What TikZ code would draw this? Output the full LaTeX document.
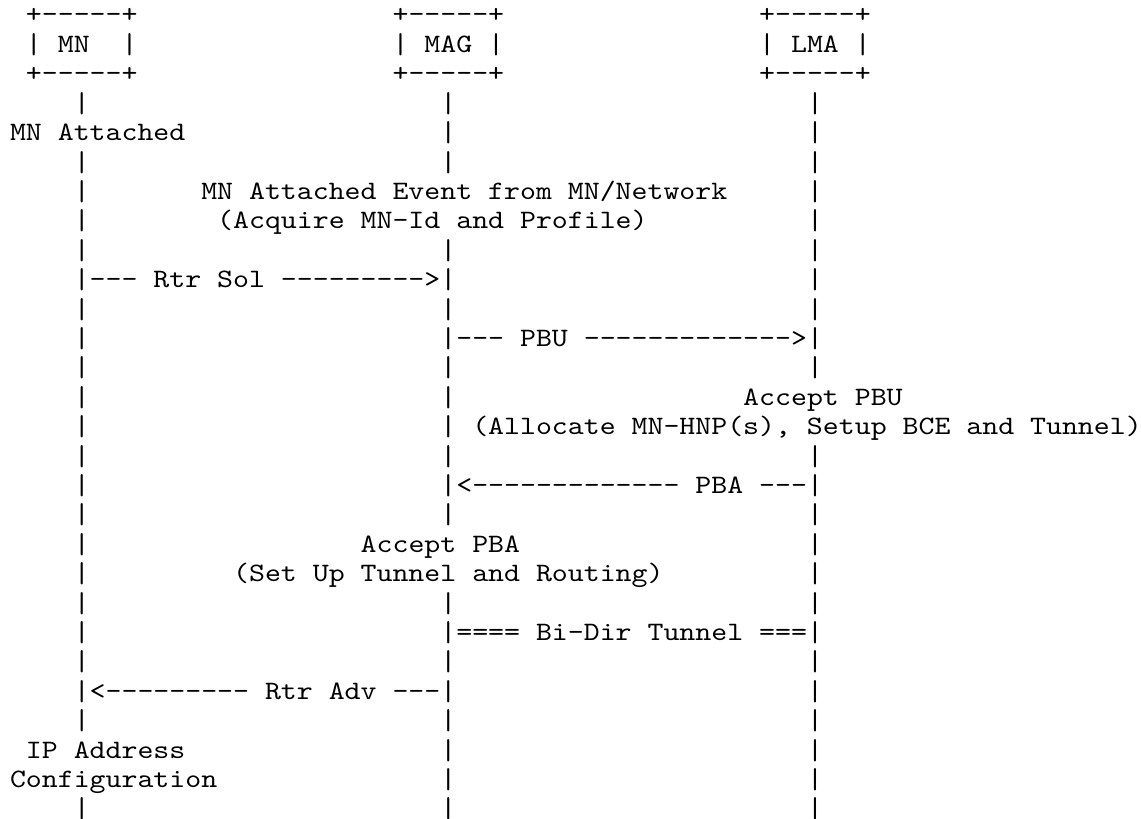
\documentclass[tikz,border=0pt]{standalone}
\usepackage{fontspec}
\usepackage{graphicx}
\setmonofont[FakeStretch=1.1427]{lmmono10-regular.otf}
\tikzset{
  ascii/.style={anchor=base west, inner sep=0pt, outer sep=0pt,
    font=\ttfamily\fontsize{26.57}{29.4}\selectfont, text=black},
}
% column/row grid of the ASCII art
\newcommand\gx[1]{10+(#1)*15.94}
\newcommand\gy[1]{23+(#1)*29.4}
% a bar glyph, slightly stretched toward the line height
\newcommand\tbar{\raisebox{-1pt}{\scalebox{1}[1.08]{|}}}
\begin{document}
\begin{tikzpicture}[x=1pt,y=-1pt]
\useasboundingbox (0,0) rectangle (1141,819);
% entity boxes
\foreach \c/\n/\lab/\lc in {1/mn/MN/3, 24/mag/MAG/26, 47/lma/LMA/49}{
  \node[ascii] (\n-top) at ({\gx{\c}},{\gy{0}}) {+-----+};
  \node[ascii] (\n-l) at ({\gx{\c}},{\gy{1}}) {\tbar};
  \node[ascii] (\n) at ({\gx{\lc}},{\gy{1}}) {\lab};
  \node[ascii] (\n-r) at ({\gx{\c+6}},{\gy{1}}) {\tbar};
  \node[ascii] (\n-bot) at ({\gx{\c}},{\gy{2}}) {+-----+};
}
% lifelines
\foreach \r in {3,5,6,7,8,9,10,11,12,13,14,15,16,17,18,19,20,21,22,23,24,27}
  \node[ascii] (mnl-\r) at ({\gx{4}},{\gy{\r}}) {\tbar};
\foreach \r in {3,4,5,8,9,10,11,12,13,14,15,16,17,20,21,22,23,24,25,26,27}
  \node[ascii] (magl-\r) at ({\gx{27}},{\gy{\r}}) {\tbar};
\foreach \r in {3,4,5,6,7,8,9,10,11,12,15,16,17,18,19,20,21,22,23,24,25,26,27}
  \node[ascii] (lmal-\r) at ({\gx{50}},{\gy{\r}}) {\tbar};
% event labels
\node[ascii] (ev1) at ({\gx{0}},{\gy{4}}) {MN Attached};
\node[ascii] (ev2) at ({\gx{12}},{\gy{6}}) {MN Attached Event from MN/Network};
\node[ascii] (ev3) at ({\gx{13}},{\gy{7}}) {(Acquire MN-Id and Profile)};
\node[ascii] (ev4) at ({\gx{46}},{\gy{13}}) {Accept PBU};
\node[ascii] (ev5) at ({\gx{29}},{\gy{14}}) {(Allocate MN-HNP(s), Setup BCE and Tunnel)};
\node[ascii] (ev6) at ({\gx{22}},{\gy{18}}) {Accept PBA};
\node[ascii] (ev7) at ({\gx{14}},{\gy{19}}) {(Set Up Tunnel and Routing)};
\node[ascii] (ev8) at ({\gx{1}},{\gy{25}}) {IP Address};
\node[ascii] (ev9) at ({\gx{0}},{\gy{26}}) {Configuration};
% messages
\node[ascii] (msg-rs) at ({\gx{5}},{\gy{9}}) {--- Rtr Sol --------->};
\node[ascii] (msg-pbu) at ({\gx{28}},{\gy{11}}) {--- PBU ------------->};
\node[ascii] (msg-pba) at ({\gx{28}},{\gy{16}}) {<------------- PBA ---};
\node[ascii] (msg-tun) at ({\gx{28}},{\gy{21}}) {==== Bi-Dir Tunnel ===};
\node[ascii] (msg-ra) at ({\gx{5}},{\gy{23}}) {<--------- Rtr Adv ---};
\end{tikzpicture}
\end{document}
